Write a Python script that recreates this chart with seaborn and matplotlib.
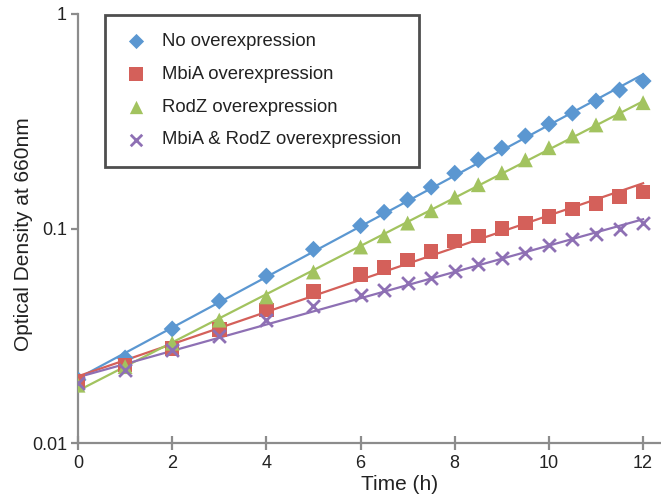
import numpy as np
import pandas as pd
import matplotlib
matplotlib.use("Agg")
import matplotlib.pyplot as plt
import seaborn as sns

time = [0, 1, 2, 3, 4, 5, 6, 6.5, 7, 7.5, 8, 8.5, 9, 9.5, 10, 10.5, 11, 11.5, 12]
no_over = [0.0197, 0.0249, 0.034, 0.0459, 0.060, 0.080, 0.103, 0.119, 0.136, 0.156, 0.181,
           0.209, 0.237, 0.270, 0.307, 0.345, 0.393, 0.442, 0.487]
mbia = [0.0193, 0.0231, 0.0276, 0.0339, 0.0417, 0.0508, 0.0611, 0.0657, 0.0713, 0.078,
        0.0874, 0.0923, 0.100, 0.106, 0.1135, 0.123, 0.131, 0.141, 0.148]
rodz = [0.0186, 0.0227, 0.0292, 0.0374, 0.048, 0.0627, 0.082, 0.0925, 0.106, 0.121, 0.140,
        0.160, 0.182, 0.209, 0.238, 0.270, 0.304, 0.345, 0.386]
both = [0.019, 0.0219, 0.0272, 0.0315, 0.0374, 0.0435, 0.049, 0.0517, 0.0555, 0.0586, 0.0633,
        0.068, 0.0726, 0.0766, 0.0838, 0.089, 0.094, 0.100, 0.106]

labels = ["No overexpression", "MbiA overexpression", "RodZ overexpression",
          "MbiA & RodZ overexpression"]
series = [no_over, mbia, rodz, both]
colors = ["#5b97d1", "#d4605a", "#a2c35f", "#8e70b4"]
markers = ["D", "s", "^", "x"]
sizes = [75, 110, 115, 85]

plt.rcParams["font.family"] = ["Liberation Sans", "DejaVu Sans"]
fig = plt.figure(figsize=(6.61, 4.97), dpi=100)
ax = fig.add_axes([78 / 661, 54 / 497, 583 / 661, 429 / 497])

handles = []
for lab, vals, c, m, s in zip(labels, series, colors, markers, sizes):
    df = pd.DataFrame({"Time": time, "OD": vals})
    # exponential trend line
    k, b = np.polyfit(df["Time"], np.log10(df["OD"]), 1)
    fit = pd.DataFrame({"Time": [0, 12]})
    fit["OD"] = 10 ** (k * fit["Time"] + b)
    sns.lineplot(data=fit, x="Time", y="OD", color=c, lw=1.6, ax=ax, legend=False, zorder=2)
    if m == "x":
        sns.scatterplot(data=df, x="Time", y="OD", marker=m, s=s, color=c,
                        linewidth=2, ax=ax, zorder=3, legend=False)
    else:
        sns.scatterplot(data=df, x="Time", y="OD", marker=m, s=s, color=c,
                        edgecolor="none", ax=ax, zorder=3, legend=False)
    handles.append(ax.scatter([], [], marker=m, s=s * 0.8, color=c,
                              linewidths=2 if m == "x" else 0, label=lab))

ax.set_yscale("log")
ax.set_ylim(0.01, 1)
ax.set_xlim(0, 12.38)
ax.set_yticks([0.01, 0.1, 1])
ax.set_yticklabels(["0.01", "0.1", "1"])
ax.yaxis.set_minor_locator(matplotlib.ticker.NullLocator())
ax.set_xticks([0, 2, 4, 6, 8, 10, 12])
ax.set_xticklabels(["0", "2", "4", "6", "8", "10", "12"])

for sp in ["top", "right"]:
    ax.spines[sp].set_visible(False)
for sp in ["left", "bottom"]:
    ax.spines[sp].set_color("#8c8c8c")
    ax.spines[sp].set_linewidth(1.6)
ax.tick_params(axis="y", direction="out", length=5, width=1.6, color="#8c8c8c",
               labelsize=13, labelcolor="#222222", pad=3)
ax.tick_params(axis="x", direction="inout", length=10, width=1.6, color="#8c8c8c",
               labelsize=13, labelcolor="#222222", pad=3.5)
ax.set_xlabel("Time (h)", fontsize=15, color="#222222", va="center")
ax.set_ylabel("Optical Density at 660nm", fontsize=15, color="#222222", va="center")
ax.xaxis.set_label_coords(0.551, -0.097)
ax.yaxis.set_label_coords(-0.0943, 0.488)
ax.patch.set_visible(False)

leg = ax.legend(handles=handles, loc="upper left", bbox_to_anchor=(27 / 583, 0.998),
                fontsize=13.3, frameon=True, fancybox=False, borderpad=1.0,
                labelspacing=0.85, handlelength=1.4, handletextpad=0.68, borderaxespad=0)
leg.get_frame().set_edgecolor("#222222")
leg.get_frame().set_linewidth(2)
for t in leg.get_texts():
    t.set_color("#222222")

fig.savefig("out.png", dpi=100)
